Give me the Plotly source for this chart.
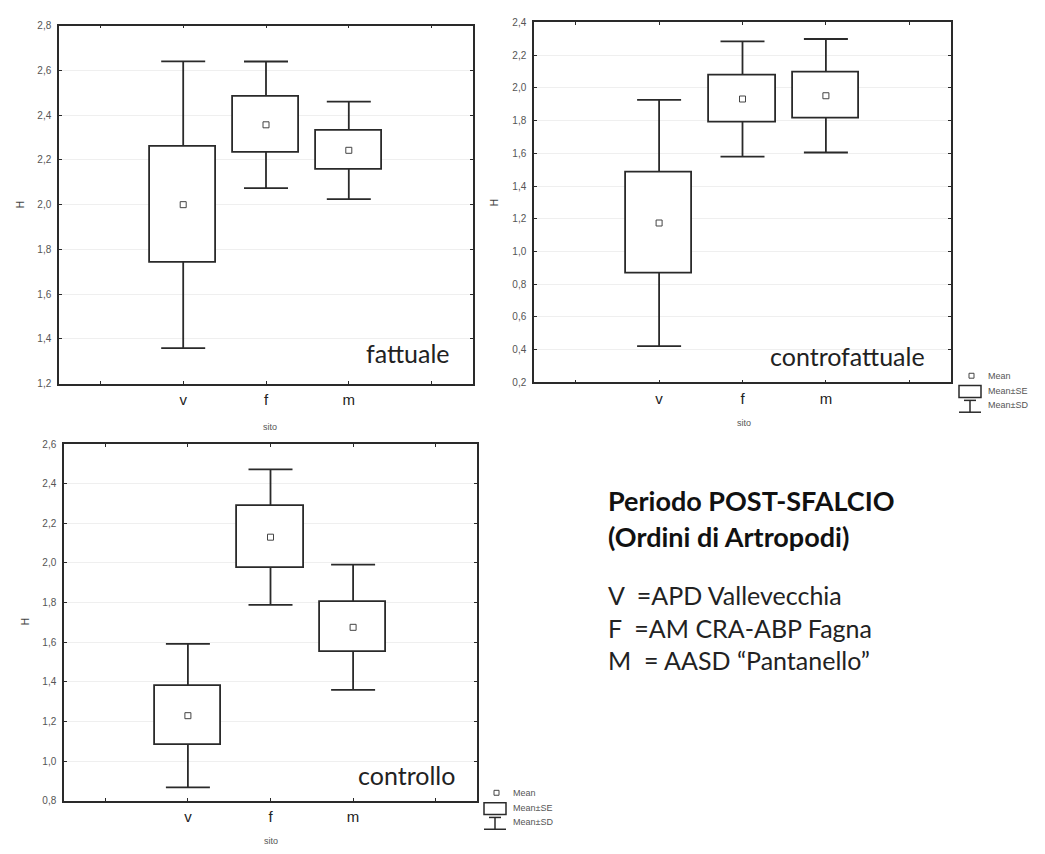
import plotly.graph_objects as go

# ---------------- data ----------------
sites = ["v", "f", "m"]
site_pos = [1, 2, 3]

fatt_mean = [2.00, 2.357, 2.243]
fatt_se = [0.258, 0.126, 0.088]
fatt_sd = [0.641, 0.283, 0.218]

contro_mean = [1.174, 1.932, 1.952]
contro_se = [0.307, 0.141, 0.140]
contro_sd = [0.753, 0.352, 0.347]

ctrl_mean = [1.229, 2.130, 1.675]
ctrl_se = [0.150, 0.155, 0.126]
ctrl_sd = [0.362, 0.342, 0.316]

panel_names = ["fattuale", "controfattuale", "controllo"]
y_ranges = [[1.2, 2.8], [0.2, 2.4], [0.8, 2.6]]
x_ticks = [0, 1, 2, 3, 4]
x_ticktext = ["", "v", "f", "m", ""]

legend_labels = ["Mean", "Mean±SE", "Mean±SD"]
title_lines = ["Periodo POST-SFALCIO", "(Ordini di Artropodi)"]
key_lines = ["V\u00a0 =APD Vallevecchia", "F\u00a0 =AM CRA-ABP Fagna", "M\u00a0 = AASD \u201cPantanello\u201d"]

# ---------------- layout geometry (pixels) ----------------
W, H = 1045, 854
def px(x):
    return x / W
def py(y):
    return 1 - y / H

panels = [
    dict(mean=fatt_mean, se=fatt_se, sd=fatt_sd, dom_x=[px(59), px(473)], dom_y=[py(383), py(20)]),
    dict(mean=contro_mean, se=contro_se, sd=contro_sd, dom_x=[px(534), px(951)], dom_y=[py(381.7), py(16.7)]),
    dict(mean=ctrl_mean, se=ctrl_se, sd=ctrl_sd, dom_x=[px(64), px(477)], dom_y=[py(806), py(444.3)]),
]

LINE = "#2a2a2a"
fig = go.Figure()

def ax_id(prefix, n):
    return prefix if n == 1 else f"{prefix}{n}"

for i, p in enumerate(panels):
    base_n, over_n = i + 1, i + 4
    xa, ya = ax_id("x", base_n), ax_id("y", base_n)
    xo, yo = ax_id("x", over_n), ax_id("y", over_n)
    m, s, d = p["mean"], p["se"], p["sd"]

    # SD whiskers (drawn on base axes, below the boxes)
    fig.add_trace(go.Scatter(
        x=site_pos, y=m, mode="markers",
        marker=dict(size=1, color="rgba(0,0,0,0)"),
        error_y=dict(type="data", array=d, width=22, thickness=1.8, color=LINE),
        xaxis=xa, yaxis=ya, showlegend=False, hoverinfo="skip"))
    # SE box (overlay axes, drawn on top of whiskers)
    fig.add_trace(go.Bar(
        x=site_pos, y=[2 * v for v in s], base=[a - b for a, b in zip(m, s)],
        width=0.8, marker=dict(color="white", line=dict(color=LINE, width=1.8)),
        xaxis=xo, yaxis=yo, showlegend=False, hoverinfo="skip"))
    # mean marker
    fig.add_trace(go.Scatter(
        x=site_pos, y=m, mode="markers",
        marker=dict(symbol="square-open", size=6, color="#444", line=dict(width=1)),
        xaxis=xo, yaxis=yo, showlegend=False, hoverinfo="skip"))

    lo, hi = y_ranges[i]
    n = int(round((hi - lo) / 0.2))
    yt = [round(lo + 0.2 * k, 1) for k in range(n + 1)]
    fig.layout[ax_id("xaxis", base_n)] = dict(
        domain=p["dom_x"], anchor=ya, range=[-0.5, 4.5],
        tickmode="array", tickvals=x_ticks, ticktext=x_ticktext,
        ticks="inside", ticklen=3, tickcolor=LINE, mirror="allticks",
        showline=True, linecolor=LINE, linewidth=1.5, showgrid=False, zeroline=False,
        tickfont=dict(family="Liberation Sans, Arial", size=15, color="#222"),
        ticklabelstandoff=2, fixedrange=True)
    fig.layout[ax_id("yaxis", base_n)] = dict(
        domain=p["dom_y"], anchor=xa, range=[lo, hi],
        tickmode="array", tickvals=yt, ticktext=[f"{v:.1f}".replace(".", ",") for v in yt],
        ticks="inside", ticklen=3, tickcolor=LINE, mirror="allticks",
        showline=True, linecolor=LINE, linewidth=1.5,
        showgrid=True, gridcolor="#efefef", gridwidth=1, zeroline=False,
        tickfont=dict(family="Liberation Sans, Arial", size=10, color="#555"),
        ticklabelstandoff=4, fixedrange=True)
    fig.layout[ax_id("xaxis", over_n)] = dict(
        overlaying=xa, anchor=yo, range=[-0.5, 4.5], visible=False,
        showgrid=False, zeroline=False, fixedrange=True)
    fig.layout[ax_id("yaxis", over_n)] = dict(
        overlaying=ya, anchor=xo, range=[lo, hi], visible=False,
        showgrid=False, zeroline=False, fixedrange=True)

annotations = []
shapes = []

# panel names inside plots
name_pos = [(408, 352), (847, 355), (406, 780)]
for name, (cx, cy) in zip(panel_names, name_pos):
    annotations.append(dict(x=px(cx), y=py(cy), xref="paper", yref="paper", text=name,
                            showarrow=False, xanchor="center", yanchor="middle",
                            font=dict(family="Lato", size=25, color="#222")))

# y axis titles "H" and x axis titles "sito"
for (hx, hy) in [(20, 202), (494, 200), (25, 625)]:
    annotations.append(dict(x=px(hx), y=py(hy), xref="paper", yref="paper", text="H",
                            showarrow=False, textangle=-90, xanchor="center", yanchor="middle",
                            font=dict(family="Liberation Sans, Arial", size=10, color="#444")))
for (sx, sy) in [(270, 427), (744, 423), (271, 847)]:
    annotations.append(dict(x=px(sx), y=py(sy), xref="paper", yref="paper", text="sito",
                            showarrow=False, xanchor="center", yanchor="middle",
                            font=dict(family="Liberation Sans, Arial", size=9, color="#555")))

# legends (panel 2 and panel 3)
for (lx, ly) in [(959, 375), (484, 798)]:
    shapes.append(dict(type="rect", xref="paper", yref="paper",
                       x0=px(lx + 10), x1=px(lx + 15), y0=py(ly + 2.5), y1=py(ly - 2.5),
                       line=dict(color="#444", width=1)))
    shapes.append(dict(type="rect", xref="paper", yref="paper",
                       x0=px(lx), x1=px(lx + 22), y0=py(ly + 22), y1=py(ly + 10),
                       line=dict(color=LINE, width=1.5)))
    shapes.append(dict(type="line", xref="paper", yref="paper",
                       x0=px(lx + 5), x1=px(lx + 17), y0=py(ly + 25), y1=py(ly + 25),
                       line=dict(color=LINE, width=1.5)))
    shapes.append(dict(type="line", xref="paper", yref="paper",
                       x0=px(lx + 11), x1=px(lx + 11), y0=py(ly + 25), y1=py(ly + 37),
                       line=dict(color=LINE, width=1.5)))
    shapes.append(dict(type="line", xref="paper", yref="paper",
                       x0=px(lx), x1=px(lx + 22), y0=py(ly + 37), y1=py(ly + 37),
                       line=dict(color=LINE, width=1.5)))
    for k, lab in enumerate(legend_labels):
        annotations.append(dict(x=px(lx + 27), y=py(ly + 15 * k), xref="paper", yref="paper",
                                text=lab, showarrow=False, xanchor="left", yanchor="middle",
                                font=dict(family="Liberation Sans, Arial", size=9, color="#555")))

# text block
for k, t in enumerate(title_lines):
    annotations.append(dict(x=px(606), y=py([502, 538][k]), xref="paper", yref="paper",
                            text=f"<b>{t}</b>", showarrow=False, xanchor="left", yanchor="middle",
                            font=dict(family="Lato", size=27, color="#111")))
for k, t in enumerate(key_lines):
    annotations.append(dict(x=px(606), y=py([597, 631, 663][k]), xref="paper", yref="paper",
                            text=t, showarrow=False, xanchor="left", yanchor="middle",
                            font=dict(family="Lato", size=25, color="#222")))

fig.update_layout(
    width=W, height=H, margin=dict(l=0, r=0, t=0, b=0),
    paper_bgcolor="white", plot_bgcolor="white",
    showlegend=False, bargap=0,
    annotations=annotations, shapes=shapes,
)

fig.write_html("out.html",
               config={"displayModeBar": False},
               post_script="document.body.style.margin='0';document.body.style.padding='0';")
